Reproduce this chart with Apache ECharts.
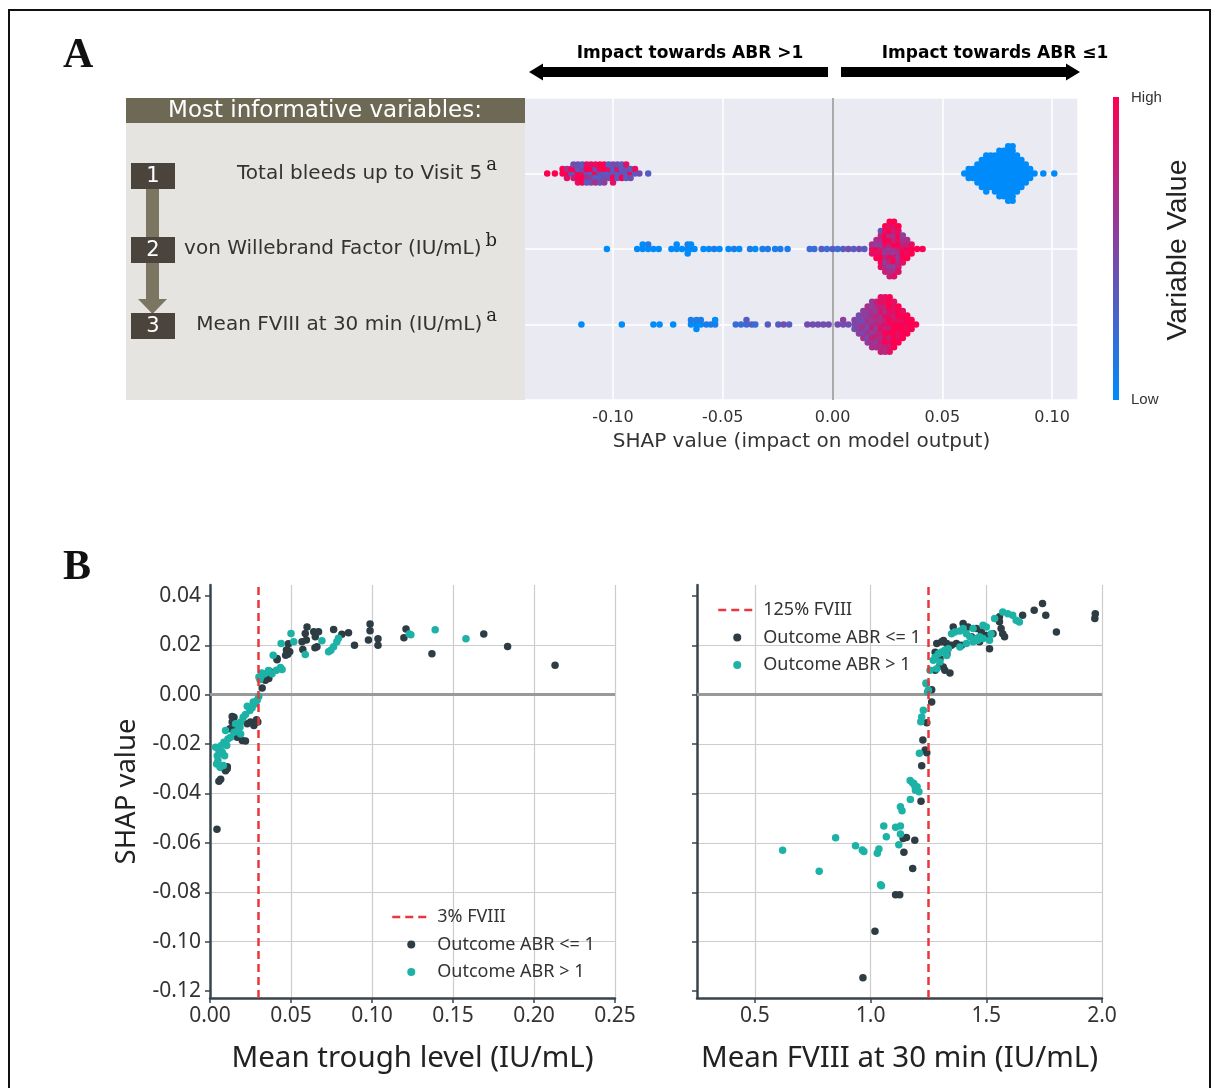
<!DOCTYPE html>
<html>
<head>
<meta charset="utf-8">
<script src="https://cdn.jsdelivr.net/npm/echarts@6/dist/echarts.min.js"></script>
<style>
  html, body { margin: 0; padding: 0; background: #fff; }
  #main { width: 1216px; height: 1088px; }
</style>
</head>
<body>
<div id="main"></div>
<script>
// ---- panel A: feature rows (top to bottom) ----
var rowNames = ['Total bleeds up to Visit 5', 'von Willebrand Factor (IU/mL)', 'Mean FVIII at 30 min (IU/mL)'];
var rowNotes = ['a', 'b', 'a'];
var shapTicksA = [-0.10, -0.05, 0.00, 0.05, 0.10];

// beeswarm bins: [SHAP value, feature value of each point stacked there (0 = low ... 9 = high)]
var bleedsSwarm = [
  [-0.130, '9'], [-0.1265, '9'], [-0.123, '99'], [-0.121, '968'], [-0.119, '49'], [-0.118, '3974'],
  [-0.116, '93948'], [-0.114, '84939'], [-0.112, '49683'], [-0.110, '39584'], [-0.108, '94386'],
  [-0.106, '48394'], [-0.104, '39495'], [-0.102, '3843'], [-0.100, '43948'], [-0.098, '3834'],
  [-0.096, '4393'], [-0.094, '3438'], [-0.092, '934'], [-0.090, '38'], [-0.088, '4'], [-0.084, '3'],
  [0.060, '0'], [0.062, '000'], [0.064, '000'], [0.066, '00000'], [0.068, '0000000'],
  [0.070, '000000000'], [0.072, '00000000'], [0.074, '000000000'], [0.076, '00000000000'],
  [0.078, '00000000000'], [0.080, '0000000000000'], [0.082, '0000000000000'], [0.084, '000000000'],
  [0.086, '0000000'], [0.088, '00000'], [0.090, '000'], [0.092, '0'], [0.096, '0'], [0.101, '0']
];
var vwfSwarm = [
  [-0.1028, '0'], [-0.089, '0'], [-0.0865, '00'], [-0.084, '01'], [-0.0816, '0'], [-0.0792, '0'],
  [-0.0734, '0'], [-0.071, '00'], [-0.0686, '0'], [-0.066, '010'], [-0.0645, '00'], [-0.0629, '0'],
  [-0.0588, '0'], [-0.0563, '0'], [-0.0539, '1'], [-0.0515, '0'], [-0.0474, '0'], [-0.0449, '1'],
  [-0.0425, '0'], [-0.0376, '1'], [-0.0352, '0'], [-0.0319, '1'], [-0.0295, '1'], [-0.0262, '1'],
  [-0.0238, '1'], [-0.0205, '1'], [-0.0104, '2'], [-0.0083, '2'], [-0.005, '3'], [-0.0026, '2'],
  [0.000, '3'], [0.0023, '2'], [0.0048, '3'], [0.0072, '4'], [0.0096, '3'], [0.0121, '4'], [0.0145, '3'],
  [0.018, '868'], [0.020, '95869'], [0.022, '758697948'], [0.024, '68597958697'],
  [0.026, '5769867958697'], [0.028, '6957869758698'], [0.030, '79685968798'], [0.032, '8796958'],
  [0.034, '97869'], [0.036, '989'], [0.0385, '9'], [0.041, '9']
];
var fviiiSwarm = [
  [-0.1144, '0'], [-0.096, '0'], [-0.0816, '0'], [-0.0788, '0'], [-0.0726, '0'], [-0.0645, '01'],
  [-0.062, '010'], [-0.060, '01'], [-0.0575, '1'], [-0.0555, '1'], [-0.0535, '10'], [-0.0441, '2'],
  [-0.0417, '2'], [-0.0392, '23'], [-0.0368, '3'], [-0.0352, '2'], [-0.0295, '3'], [-0.0247, '3'],
  [-0.0223, '4'], [-0.0198, '3'], [-0.0115, '4'], [-0.009, '4'], [-0.0066, '4'], [-0.0042, '4'],
  [-0.0018, '4'], [0.0023, '4'], [0.0048, '45'], [0.0072, '4'],
  [0.010, '454'], [0.012, '54545'], [0.014, '5465456'], [0.016, '564565465'], [0.018, '65765675656'],
  [0.020, '76576576576'], [0.022, '7686786778687'], [0.024, '8778968798786'], [0.026, '8978987989798'],
  [0.028, '98979898989'], [0.030, '989989899'], [0.032, '9899989'], [0.034, '99899'], [0.036, '999'],
  [0.038, '9']
];

// ---- panel B: dependence plots [x, SHAP] ----
var troughCut = 0.03, fviiiCut = 1.25;
var shapTicksB = [-0.12, -0.10, -0.08, -0.06, -0.04, -0.02, 0.00, 0.02, 0.04];
var troughLe1 = [
  [0.0043, -0.0545], [0.0066, -0.0342], [0.0055, -0.0351], [0.0107, -0.0292], [0.0096, -0.0308],
  [0.0148, -0.0091], [0.0137, -0.0111], [0.0164, -0.0132], [0.0168, -0.0172], [0.0199, -0.0186],
  [0.0219, -0.0188], [0.023, -0.0118], [0.025, -0.0111], [0.0271, -0.0125], [0.0287, -0.0102],
  [0.0295, -0.0111], [0.0123, -0.0138], [0.0137, -0.0088], [0.0074, -0.0295], [0.0106, -0.0300],
  [0.0322, 0.0027], [0.0342, 0.0058], [0.0363, 0.0065], [0.0414, 0.0146], [0.0472, 0.0181],
  [0.048, 0.0164], [0.0492, 0.0174], [0.0478, 0.018], [0.0467, 0.016], [0.0484, 0.0206],
  [0.0414, 0.0141], [0.0367, 0.0095], [0.034, 0.0072],
  [0.0599, 0.0274], [0.0588, 0.0248], [0.0595, 0.0221], [0.0568, 0.0214], [0.0573, 0.0183],
  [0.064, 0.0255], [0.065, 0.0235], [0.067, 0.0255], [0.066, 0.0194], [0.0648, 0.019],
  [0.0763, 0.0264], [0.0814, 0.0245], [0.0855, 0.0251], [0.0892, 0.020], [0.0988, 0.0286],
  [0.0988, 0.0259], [0.0978, 0.0221], [0.1037, 0.0226], [0.1037, 0.020], [0.121, 0.0266],
  [0.1197, 0.023], [0.137, 0.0166], [0.169, 0.0246], [0.1837, 0.0195], [0.213, 0.0119]
];
var troughGt1 = [
  [0.0301, -0.0007], [0.0291, -0.0023], [0.0281, -0.0037], [0.0267, -0.003], [0.026, -0.0053],
  [0.0246, -0.0064], [0.023, -0.0047], [0.0219, -0.008], [0.0205, -0.0091], [0.0189, -0.0111],
  [0.0185, -0.0132], [0.0172, -0.0145], [0.0189, -0.0159], [0.0158, -0.0118], [0.0148, -0.0152],
  [0.0127, -0.0172], [0.0111, -0.0179], [0.0096, -0.0145], [0.0086, -0.0193], [0.007, -0.0206],
  [0.0055, -0.0226], [0.0045, -0.0247], [0.0049, -0.0267], [0.0041, -0.0281], [0.0062, -0.0294],
  [0.0082, -0.0287], [0.009, -0.0247], [0.0076, -0.0233], [0.0035, -0.0213], [0.0103, -0.0206],
  [0.0308, 0.0061], [0.0316, 0.0075], [0.0336, 0.0085], [0.0363, 0.0092], [0.0383, 0.0085],
  [0.041, 0.0099], [0.0435, 0.011], [0.0445, 0.0102], [0.039, 0.016], [0.0439, 0.0207],
  [0.050, 0.0248], [0.0517, 0.0214], [0.0588, 0.0163], [0.0691, 0.0218], [0.0732, 0.0174],
  [0.0746, 0.018], [0.0763, 0.0194], [0.0783, 0.0214], [0.0793, 0.0228], [0.123, 0.0246],
  [0.124, 0.0243], [0.139, 0.0263], [0.158, 0.0226], [0.0302, 0.0072], [0.0319, 0.0088], [0.0361, 0.0098]
];
var fviiiLe1 = [
  [1.264, 0.002], [1.264, -0.003], [1.279, 0.0099], [1.300, 0.0119], [1.314, 0.0112], [1.321, 0.0099],
  [1.343, 0.0088], [1.286, 0.0207], [1.307, 0.0214], [1.329, 0.0207], [1.350, 0.020], [1.357, 0.0274],
  [1.400, 0.0288], [1.421, 0.0274], [1.457, 0.0268], [1.479, 0.0254], [1.500, 0.024], [1.514, 0.0186],
  [1.557, 0.0295], [1.564, 0.0268], [1.571, 0.0247], [1.579, 0.0234], [1.557, 0.0315], [1.657, 0.0322],
  [1.707, 0.0342], [1.743, 0.0369], [1.757, 0.0322], [1.803, 0.0254], [1.971, 0.0328], [1.969, 0.0308],
  [1.371, 0.0207], [1.393, 0.020], [1.436, 0.0234], [1.471, 0.0214], [1.529, 0.0247],
  [1.315, 0.0219], [1.279, 0.0172], [1.300, 0.0145], [1.330, 0.0165],
  [1.243, -0.0114], [1.226, -0.0184], [1.236, -0.0224], [1.243, -0.0235], [1.221, -0.0288],
  [1.218, -0.0431], [1.155, -0.0578], [1.141, -0.0582], [1.191, -0.0589], [1.144, -0.0638],
  [1.182, -0.0704], [1.108, -0.081], [1.126, -0.081], [1.019, -0.0958], [0.967, -0.1146]
];
var fviiiGt1 = [
  [1.240, 0.0047], [1.250, 0.0018], [1.257, 0.0099], [1.271, 0.0139], [1.279, 0.0153], [1.293, 0.0166],
  [1.307, 0.0173], [1.321, 0.018], [1.329, 0.0159], [1.336, 0.0186], [1.350, 0.0247], [1.364, 0.0254],
  [1.386, 0.0258], [1.400, 0.0268], [1.414, 0.0247], [1.429, 0.0234], [1.443, 0.0268], [1.457, 0.0227],
  [1.471, 0.0234], [1.486, 0.0281], [1.500, 0.0274], [1.514, 0.022], [1.521, 0.0247], [1.536, 0.0308],
  [1.571, 0.0335], [1.593, 0.0328], [1.614, 0.0322], [1.629, 0.0301], [1.643, 0.0294], [1.386, 0.0193],
  [1.414, 0.0207], [1.443, 0.0214], [1.464, 0.022], [1.486, 0.0227], [1.286, 0.0105], [1.300, 0.0132],
  [1.240, 0.0044], [1.246, 0.0011], [1.228, -0.0063], [1.221, -0.009], [1.217, -0.011], [1.211, -0.0237],
  [1.171, -0.0347], [1.182, -0.0358], [1.192, -0.0372], [1.187, -0.036], [1.201, -0.0373],
  [1.194, -0.0387], [1.209, -0.0393], [1.172, -0.0424], [1.129, -0.0454], [1.136, -0.047],
  [1.057, -0.0532], [1.108, -0.0537], [1.129, -0.0532], [1.068, -0.0575], [1.129, -0.0564],
  [1.122, -0.0608], [0.849, -0.0579], [0.935, -0.0612], [0.964, -0.0629], [0.971, -0.0635],
  [1.029, -0.0642], [1.036, -0.0625], [0.620, -0.0630], [0.778, -0.0715], [1.043, -0.077], [1.047, -0.0774]
];

var lowColor = '#008bfb', highColor = '#ff0051';
var dark = '#2e3c44', teal = '#1db2a6', red = '#e8383d';
var fontA = 'DejaVu Sans', fontB = 'Noto Sans';

// shap-style beeswarm: stack points of each bin alternately above / below the row line
function swarm(bins, rowY) {
  var maxN = 0;
  bins.forEach(function (b) { maxN = Math.max(maxN, b[1].length); });
  var half = Math.ceil((maxN - 1) / 2);
  var step = half ? 0.36 / half : 0;
  var pts = [];
  bins.forEach(function (b) {
    b[1].split('').forEach(function (d, k) {
      var off = Math.ceil(k / 2) * (k % 2 ? 1 : -1) * step;
      pts.push([b[0], rowY + off, +d]);
    });
  });
  return pts;
}

var chart = echarts.init(document.getElementById('main'));

var axisDark = '#37444c';
function bXAxis(grid, min, max, split, digits, name) {
  return {
    gridIndex: grid, type: 'value', min: min, max: max, splitNumber: split,
    axisLine: { onZero: false, lineStyle: { color: axisDark, width: 2.5 } },
    axisTick: { show: true, length: 5, lineStyle: { color: axisDark, width: 1.5 } },
    axisLabel: { showMinLabel: min === 0, fontFamily: fontB, fontSize: 21, color: '#333', margin: 8,
      formatter: function (v) { return v.toFixed(digits); } },
    splitLine: { showMinLine: false, lineStyle: { color: '#cccccc', width: 1.2 } },
    name: name, nameLocation: 'middle', nameGap: 46,
    nameTextStyle: { fontFamily: fontB, fontSize: 29.5, color: '#222' }
  };
}
function bYAxis(grid, labels) {
  return {
    gridIndex: grid, type: 'value', min: -0.1228, max: 0.0444, splitNumber: 8,
    axisLine: { onZero: false, lineStyle: { color: axisDark, width: 2.5 } },
    axisTick: { show: true, length: 5, customValues: shapTicksB, lineStyle: { color: axisDark, width: 1.5 } },
    axisLabel: { show: labels, customValues: shapTicksB, fontFamily: fontB, fontSize: 21, color: '#333', margin: 9,
      formatter: function (v) { return v.toFixed(2); } },
    splitLine: { showMinLine: false, showMaxLine: false, lineStyle: { color: '#cccccc', width: 1.2 } },
    name: labels ? 'SHAP value' : '', nameLocation: 'middle', nameGap: 69,
    nameTextStyle: { fontFamily: fontB, fontSize: 27.5, color: '#222' }
  };
}
function zeroLine(axisKey, value, color, width) {
  var d = {}; d[axisKey] = value;
  return { silent: true, symbol: ['none', 'none'], z: 1, label: { show: false },
    lineStyle: { color: color, width: width, type: 'solid' }, emphasis: { disabled: true }, data: [d] };
}
function cutSeries(name, grid, value) {
  return {
    name: name, type: 'line', xAxisIndex: grid, yAxisIndex: grid, data: [], symbol: 'none',
    itemStyle: { color: red }, lineStyle: { color: red, width: 2.5, type: [8, 5] },
    markLine: { silent: true, symbol: ['none', 'none'], z: 4, label: { show: false },
      lineStyle: { color: red, width: 2.5, type: [8, 5] }, emphasis: { disabled: true }, data: [{ xAxis: value }] }
  };
}
function dots(name, grid, data, color, zero) {
  var s = { name: name, type: 'scatter', xAxisIndex: grid, yAxisIndex: grid, data: data,
    symbolSize: 7.5, itemStyle: { color: color, opacity: 1 }, z: 3 };
  if (zero) s.markLine = zeroLine('yAxis', 0, '#999999', 3);
  return s;
}
function legendB(left, top, cutName) {
  return {
    left: left, top: top, orient: 'vertical', selectedMode: false,
    itemWidth: 38, itemHeight: 8, itemGap: 7.5,
    textStyle: { fontFamily: fontB, fontSize: 18, color: '#333', lineHeight: 20, padding: [0, 0, 0, 2] },
    data: [
      { name: cutName, lineStyle: { type: [8, 5], width: 2.5 }, itemStyle: { opacity: 0 } },
      { name: 'Outcome ABR <= 1', icon: 'circle' },
      { name: 'Outcome ABR > 1', icon: 'circle' }
    ]
  };
}

var swarmRows = [bleedsSwarm, vwfSwarm, fviiiSwarm];

var option = {
  backgroundColor: '#ffffff',
  animation: false,
  grid: [
    { left: 525, top: 98, width: 553, height: 302, show: true, backgroundColor: '#eaeaf2', borderWidth: 0 },
    { left: 210, top: 585, width: 405, height: 413 },
    { left: 697, top: 585, width: 405, height: 413 }
  ],
  xAxis: [
    {
      gridIndex: 0, type: 'value', min: -0.1401, max: 0.1118, splitNumber: 5,
      axisLine: { show: false }, axisTick: { show: false },
      axisLabel: { customValues: shapTicksA, fontFamily: fontA, fontSize: 16, color: '#333', margin: 10,
        formatter: function (v) { return v.toFixed(2); } },
      splitLine: { showMinLine: false, lineStyle: { color: '#ffffff', width: 1.5 } },
      name: 'SHAP value (impact on model output)', nameLocation: 'middle', nameGap: 32,
      nameTextStyle: { fontFamily: fontA, fontSize: 20, color: '#333' }
    },
    bXAxis(1, 0, 0.25, 5, 2, 'Mean trough level (IU/mL)'),
    bXAxis(2, 0.25, 2.0, 4, 1, 'Mean FVIII at 30 min (IU/mL)')
  ],
  yAxis: [
    {
      gridIndex: 0, type: 'value', min: 0, max: 4, interval: 1,
      axisLine: { show: false }, axisTick: { show: false },
      splitLine: { lineStyle: { color: '#ffffff', width: 1.5 } },
      axisLabel: {
        margin: 28,
        formatter: function (v) {
          var i = 3 - v;
          if (i < 0 || i > 2) return '';
          return '{n|' + rowNames[i] + '}{s|' + rowNotes[i] + '}';
        },
        rich: {
          n: { fontFamily: fontA, fontSize: 20, color: '#333' },
          s: { fontFamily: 'DejaVu Serif', fontSize: 18, color: '#222', padding: [0, 0, 16, 4] }
        }
      }
    },
    bYAxis(1, true),
    bYAxis(2, false)
  ],
  visualMap: {
    type: 'continuous', show: false, min: 0, max: 9, dimension: 2, seriesIndex: [0, 1, 2],
    inRange: { color: [lowColor, highColor] }
  },
  legend: [legendB(386, 902, '3% FVIII'), legendB(712, 595, '125% FVIII')],
  series: swarmRows.map(function (bins, i) {
    var s = { type: 'scatter', xAxisIndex: 0, yAxisIndex: 0, symbolSize: 6.5, z: 3,
      data: swarm(bins, 3 - i), itemStyle: { opacity: 1 } };
    if (i === 0) s.markLine = zeroLine('xAxis', 0, '#aaaaaa', 2);
    return s;
  }).concat([
    cutSeries('3% FVIII', 1, troughCut),
    dots('Outcome ABR <= 1', 1, troughLe1, dark, true),
    dots('Outcome ABR > 1', 1, troughGt1, teal, false),
    cutSeries('125% FVIII', 2, fviiiCut),
    dots('Outcome ABR <= 1', 2, fviiiLe1, dark, true),
    dots('Outcome ABR > 1', 2, fviiiGt1, teal, false)
  ]),
  graphic: [
    // frame
    { type: 'rect', z: -5, shape: { x: 9, y: 10, width: 1201, height: 1095 },
      style: { fill: 'none', stroke: '#111', lineWidth: 2 } },
    // panel letters
    { type: 'text', x: 63, y: 56, style: { text: 'A', font: 'bold 42px "Liberation Serif"', fill: '#111', verticalAlign: 'middle' } },
    { type: 'text', x: 63, y: 568, style: { text: 'B', font: 'bold 42px "Liberation Serif"', fill: '#111', verticalAlign: 'middle' } },
    // impact arrows
    { type: 'polygon', shape: { points: [[529, 72], [543, 63.5], [543, 67], [828, 67], [828, 77], [543, 77], [543, 80.5]] }, style: { fill: '#000' } },
    { type: 'polygon', shape: { points: [[841, 67], [1066, 67], [1066, 63.5], [1080, 72], [1066, 80.5], [1066, 77], [841, 77]] }, style: { fill: '#000' } },
    { type: 'text', x: 690, y: 54, style: { text: 'Impact towards ABR >1', font: 'bold 17px "DejaVu Sans"', fill: '#000', align: 'center', verticalAlign: 'middle' } },
    { type: 'text', x: 995, y: 54, style: { text: 'Impact towards ABR \u22641', font: 'bold 17px "DejaVu Sans"', fill: '#000', align: 'center', verticalAlign: 'middle' } },
    // variables box
    { type: 'rect', z: -1, shape: { x: 126, y: 123, width: 399, height: 277 }, style: { fill: '#e6e4e1' } },
    { type: 'rect', z: -1, shape: { x: 126, y: 98, width: 399, height: 25 }, style: { fill: '#6e6954' } },
    { type: 'text', x: 325, y: 111, style: { text: 'Most informative variables:', font: '23px "DejaVu Sans"', fill: '#ffffff', align: 'center', verticalAlign: 'middle' } },
    { type: 'rect', shape: { x: 146, y: 186, width: 13, height: 114 }, style: { fill: '#7b7662' } },
    { type: 'polygon', shape: { points: [[138, 299], [167, 299], [152.5, 314]] }, style: { fill: '#7b7662' } },
    { type: 'rect', shape: { x: 131, y: 163, width: 44, height: 26 }, style: { fill: '#4a443d' } },
    { type: 'rect', shape: { x: 131, y: 237, width: 44, height: 26 }, style: { fill: '#4a443d' } },
    { type: 'rect', shape: { x: 131, y: 313, width: 44, height: 26 }, style: { fill: '#4a443d' } },
    { type: 'text', x: 153, y: 177, style: { text: '1', font: '21px "DejaVu Sans"', fill: '#fff', align: 'center', verticalAlign: 'middle' } },
    { type: 'text', x: 153, y: 251, style: { text: '2', font: '21px "DejaVu Sans"', fill: '#fff', align: 'center', verticalAlign: 'middle' } },
    { type: 'text', x: 153, y: 327, style: { text: '3', font: '21px "DejaVu Sans"', fill: '#fff', align: 'center', verticalAlign: 'middle' } },
    // colour bar
    { type: 'rect', shape: { x: 1113, y: 97, width: 6, height: 303 },
      style: { fill: new echarts.graphic.LinearGradient(0, 0, 0, 1, [{ offset: 0, color: highColor }, { offset: 1, color: lowColor }]) } },
    { type: 'text', x: 1131, y: 98, style: { text: 'High', font: '15px "Liberation Sans"', fill: '#333', verticalAlign: 'middle' } },
    { type: 'text', x: 1131, y: 400, style: { text: 'Low', font: '15px "Liberation Sans"', fill: '#333', verticalAlign: 'middle' } },
    { type: 'text', x: 1178, y: 250, rotation: Math.PI / 2, style: { text: 'Variable Value', font: '28.5px "Liberation Sans"', fill: '#222', align: 'center', verticalAlign: 'middle' } }
  ]
};

chart.setOption(option);
</script>
</body>
</html>
